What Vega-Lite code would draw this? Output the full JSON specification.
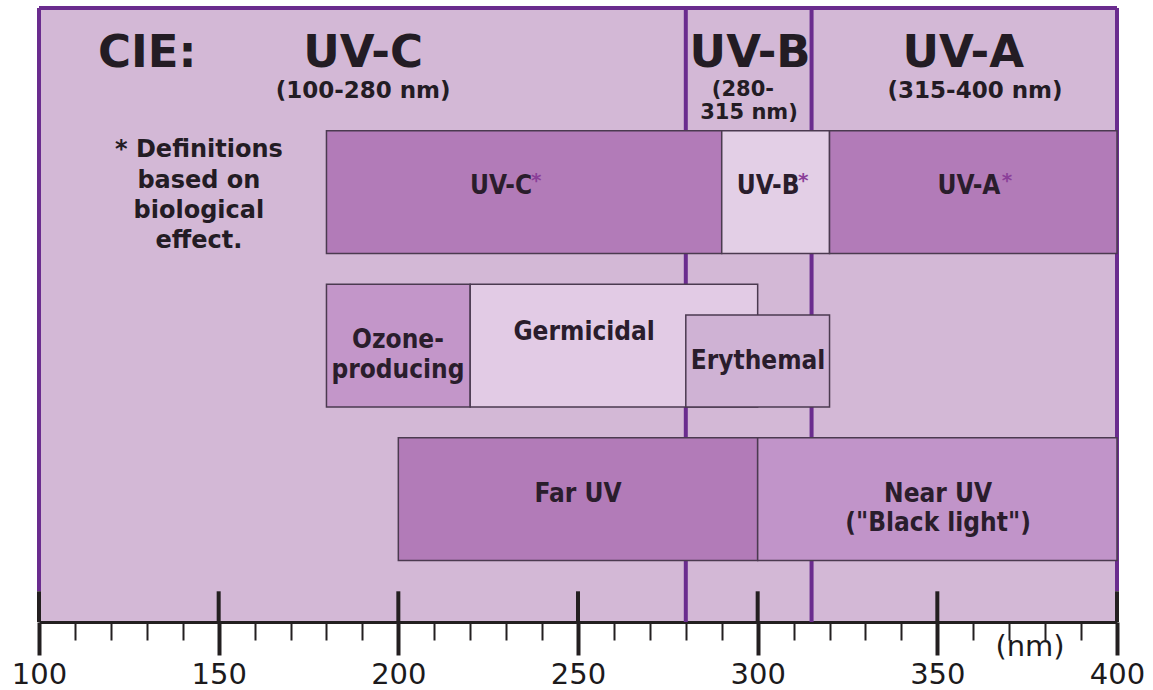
{
  "$schema": "https://vega.github.io/schema/vega-lite/v6.json",
  "width": 1078,
  "height": 614,
  "autosize": {"type": "none"},
  "padding": {"left": 39, "top": 8, "right": 36, "bottom": 68},
  "background": "#ffffff",
  "view": {"fill": "#d3b8d6", "stroke": null},
  "datasets": {
    "borders": [
      {"x": 100, "x2": 100, "y": 0, "y2": 19},
      {"x": 400, "x2": 400, "y": 0, "y2": 19},
      {"x": 280, "x2": 280, "y": 0, "y2": 20},
      {"x": 315, "x2": 315, "y": 0, "y2": 20},
      {"x": 100, "x2": 400, "y": 0, "y2": 0}
    ],
    "majors": [
      {"x": 100, "y": 19, "y2": 20},
      {"x": 150, "y": 19, "y2": 20},
      {"x": 200, "y": 19, "y2": 20},
      {"x": 250, "y": 19, "y2": 20},
      {"x": 300, "y": 19, "y2": 20},
      {"x": 350, "y": 19, "y2": 20},
      {"x": 400, "y": 19, "y2": 20}
    ],
    "bands": [
      {"name": "UV-C*", "x": 180, "x2": 290, "y": 4, "y2": 8},
      {"name": "UV-B*", "x": 290, "x2": 320, "y": 4, "y2": 8},
      {"name": "UV-A*", "x": 320, "x2": 400, "y": 4, "y2": 8},
      {"name": "Ozone-producing", "x": 180, "x2": 220, "y": 9, "y2": 13},
      {"name": "Germicidal", "x": 220, "x2": 300, "y": 9, "y2": 13},
      {"name": "Erythemal", "x": 280, "x2": 320, "y": 10, "y2": 13},
      {"name": "Far UV", "x": 200, "x2": 300, "y": 14, "y2": 18},
      {"name": "Near UV", "x": 300, "x2": 400, "y": 14, "y2": 18}
    ],
    "labels": [
      {"role": "big", "text": "CIE:", "x": 130.1, "y": 1.45},
      {"role": "big", "text": "UV-C", "x": 190.2, "y": 1.45},
      {"role": "big", "text": "UV-B", "x": 297.9, "y": 1.45},
      {"role": "big", "text": "UV-A", "x": 357.2, "y": 1.45},
      {"role": "sub", "text": "(100-280 nm)", "x": 190.2, "y": 2.7},
      {"role": "subsmall", "text": "(280-", "x": 295.9, "y": 2.68},
      {"role": "subsmall", "text": "315 nm)", "x": 297.6, "y": 3.42},
      {"role": "sub", "text": "(315-400 nm)", "x": 360.5, "y": 2.7},
      {"role": "inner", "text": "UV-C", "x": 228.6, "y": 5.8},
      {"role": "inner", "text": "UV-B", "x": 302.9, "y": 5.8},
      {"role": "inner", "text": "UV-A", "x": 358.8, "y": 5.8},
      {"role": "inner", "text": "Ozone-", "x": 199.9, "y": 10.81},
      {"role": "inner", "text": "producing", "x": 199.9, "y": 11.79},
      {"role": "inner", "text": "Germicidal", "x": 251.7, "y": 10.55},
      {"role": "inner", "text": "Erythemal", "x": 300.1, "y": 11.5},
      {"role": "inner", "text": "Far UV", "x": 250.0, "y": 15.83},
      {"role": "inner", "text": "Near UV", "x": 350.2, "y": 15.83},
      {"role": "inner", "text": "(\"Black light\")", "x": 350.2, "y": 16.78},
      {"role": "star", "text": "*", "x": 238.4, "y": 5.62},
      {"role": "star", "text": "*", "x": 312.7, "y": 5.62},
      {"role": "star", "text": "*", "x": 369.4, "y": 5.62},
      {"role": "note", "text": "* Definitions", "x": 144.5, "y": 4.63},
      {"role": "note", "text": "based on", "x": 144.5, "y": 5.64},
      {"role": "note", "text": "biological", "x": 144.5, "y": 6.61},
      {"role": "note", "text": "effect.", "x": 144.5, "y": 7.59},
      {"role": "unit", "text": "(nm)", "x": 375.8, "y": 20.81}
    ]
  },
  "encoding": {
    "x": {
      "field": "x",
      "type": "quantitative",
      "scale": {"domain": [100, 400], "nice": false, "zero": false},
      "axis": {
        "title": null,
        "grid": false,
        "values": [100, 110, 120, 130, 140, 150, 160, 170, 180, 190, 200, 210, 220, 230, 240, 250, 260, 270, 280, 290, 300, 310, 320, 330, 340, 350, 360, 370, 380, 390, 400],
        "format": "d",
        "labelExpr": "datum.value % 50 === 0 ? datum.label : ''",
        "labelOverlap": false,
        "labelFlush": false,
        "labelFont": "DejaVu Sans",
        "labelFontSize": 29,
        "labelColor": "#1c1a1c",
        "labelPadding": 5,
        "domainColor": "#231f20",
        "domainWidth": 3,
        "tickColor": "#231f20",
        "tickWidth": {"condition": {"test": "datum.value % 50 === 0", "value": 4}, "value": 2},
        "tickSize": {"condition": {"test": "datum.value % 50 === 0", "value": 33}, "value": 18}
      }
    },
    "y": {
      "field": "y",
      "type": "quantitative",
      "scale": {"domain": [0, 20], "reverse": true, "nice": false, "zero": false},
      "axis": null
    }
  },
  "layer": [
    {
      "data": {"name": "borders"},
      "mark": {"type": "rule", "color": "#6a2c8e", "strokeWidth": 4},
      "encoding": {"x2": {"field": "x2"}, "y2": {"field": "y2"}}
    },
    {
      "data": {"name": "majors"},
      "mark": {"type": "rule", "color": "#231f20", "strokeWidth": 4},
      "encoding": {"y2": {"field": "y2"}}
    },
    {
      "data": {"name": "bands"},
      "mark": {"type": "rect", "stroke": "#4b3a50", "strokeWidth": 1.5},
      "encoding": {
        "x2": {"field": "x2"},
        "y2": {"field": "y2"},
        "color": {
          "field": "name",
          "type": "nominal",
          "legend": null,
          "scale": {
            "domain": ["UV-C*", "UV-B*", "UV-A*", "Ozone-producing", "Germicidal", "Erythemal", "Far UV", "Near UV"],
            "range": ["#b27bb8", "#e3cfe6", "#b27bb8", "#c396c9", "#e2cbe5", "#cfb2d4", "#b27bb8", "#c194c9"]
          }
        }
      }
    },
    {
      "data": {"name": "labels"},
      "transform": [{"filter": "datum.role === 'big'"}],
      "mark": {"type": "text", "font": "DejaVu Sans", "fontWeight": "bold", "fontSize": 45, "color": "#231c24", "align": "center", "baseline": "middle"},
      "encoding": {"text": {"field": "text"}}
    },
    {
      "data": {"name": "labels"},
      "transform": [{"filter": "datum.role === 'sub'"}],
      "mark": {"type": "text", "font": "DejaVu Sans", "fontWeight": "bold", "fontSize": 23, "color": "#231c24", "align": "center", "baseline": "middle"},
      "encoding": {"text": {"field": "text"}}
    },
    {
      "data": {"name": "labels"},
      "transform": [{"filter": "datum.role === 'subsmall'"}],
      "mark": {"type": "text", "font": "DejaVu Sans", "fontWeight": "bold", "fontSize": 21, "color": "#231c24", "align": "center", "baseline": "middle"},
      "encoding": {"text": {"field": "text"}}
    },
    {
      "data": {"name": "labels"},
      "transform": [{"filter": "datum.role === 'note'"}],
      "mark": {"type": "text", "font": "DejaVu Sans", "fontWeight": "bold", "fontSize": 24, "color": "#231c24", "align": "center", "baseline": "middle"},
      "encoding": {"text": {"field": "text"}}
    },
    {
      "data": {"name": "labels"},
      "transform": [{"filter": "datum.role === 'inner'"}],
      "mark": {"type": "text", "font": "DejaVu Sans Condensed, Liberation Sans Narrow, DejaVu Sans", "fontWeight": "bold", "fontSize": 26, "color": "#2a1d2c", "align": "center", "baseline": "middle"},
      "encoding": {"text": {"field": "text"}}
    },
    {
      "data": {"name": "labels"},
      "transform": [{"filter": "datum.role === 'star'"}],
      "mark": {"type": "text", "font": "DejaVu Sans", "fontWeight": "bold", "fontSize": 20, "color": "#8b3f99", "align": "center", "baseline": "middle"},
      "encoding": {"text": {"field": "text"}}
    },
    {
      "data": {"name": "labels"},
      "transform": [{"filter": "datum.role === 'unit'"}],
      "mark": {"type": "text", "font": "DejaVu Sans", "fontSize": 29, "color": "#1c1a1c", "align": "center", "baseline": "middle"},
      "encoding": {"text": {"field": "text"}}
    }
  ]
}
